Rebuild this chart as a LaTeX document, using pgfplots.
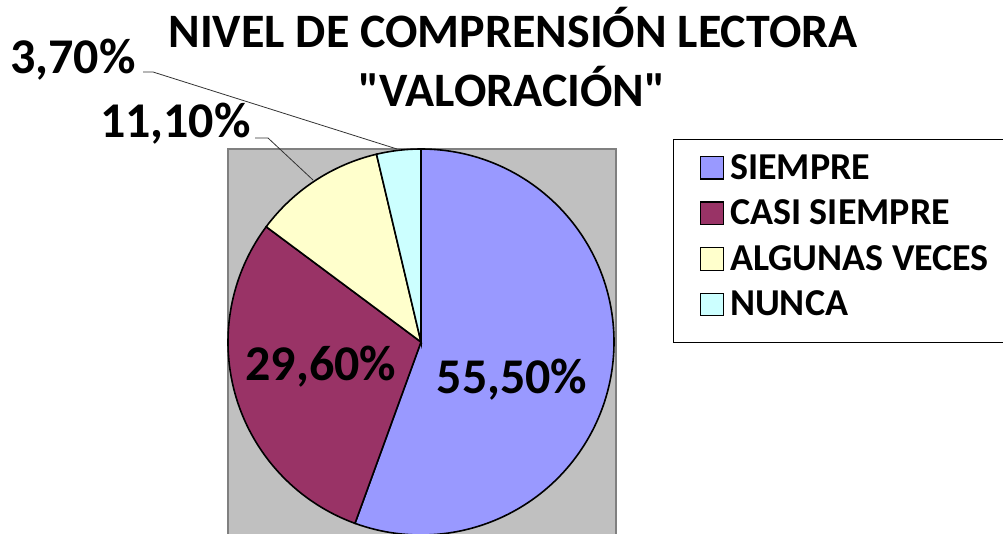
\documentclass[border=0pt]{standalone}
\usepackage{pgfplots}
\usepackage{pgfplotstable}
\pgfplotsset{compat=1.18}
\usepackage{fontspec}
\setmainfont{Carlito}[Ligatures=TeXOff]

\definecolor{siempre}{HTML}{9999FF}
\definecolor{casi}{HTML}{993366}
\definecolor{algunas}{HTML}{FFFFCC}
\definecolor{nunca}{HTML}{CCFFFF}
\definecolor{plotbg}{HTML}{C0C0C0}
\definecolor{plotframe}{HTML}{808080}

\newcommand\titlefont{\fontsize{36}{40}\selectfont\bfseries}
\newcommand\labfont{\fontsize{37.5}{42}\selectfont\bfseries}
\newcommand\legfont{\fontsize{28.5}{32}\selectfont\bfseries}

% share of each answer (%), its colour, and where its label sits (px, from bottom left)
\pgfplotstableread{
label            value  color    lx   ly   anc
SIEMPRE          55.5   siempre  512  140  base
{CASI SIEMPRE}   29.6   casi     321  153  base
{ALGUNAS VECES}  11.1   algunas  251  395  {base east}
NUNCA            3.7    nunca    136  459  {base east}
}\answers

\begin{document}
\begin{tikzpicture}
% slice angles, clockwise from 12 o'clock
\pgfplotstablegetrowsof{\answers}
\pgfmathtruncatemacro{\lastrow}{\pgfplotsretval-1}
\gdef\total{0}
\foreach \i in {0,...,\lastrow}{
  \pgfplotstablegetelem{\i}{value}\of\answers
  \pgfmathsetmacro{\sumtmp}{\total+\pgfplotsretval}
  \global\let\total\sumtmp
}
\gdef\cum{0}
\foreach \i in {0,...,\lastrow}{
  \pgfplotstablegetelem{\i}{value}\of\answers
  \let\v\pgfplotsretval
  \pgfmathsetmacro{\angA}{90-360*(\cum/\total)}
  \pgfmathsetmacro{\cumB}{\cum+\v}
  \pgfmathsetmacro{\angB}{90-360*(\cumB/\total)}
  \expandafter\xdef\csname sa\i\endcsname{\angA}
  \expandafter\xdef\csname sb\i\endcsname{\angB}
  \expandafter\xdef\csname val\i\endcsname{\v}
  \global\let\cum\cumB
  \pgfplotstablegetelem{\i}{color}\of\answers
  \expandafter\xdef\csname col\i\endcsname{\pgfplotsretval}
  \pgfplotstablegetelem{\i}{label}\of\answers
  \expandafter\xdef\csname lab\i\endcsname{\pgfplotsretval}
  \pgfplotstablegetelem{\i}{lx}\of\answers
  \expandafter\xdef\csname lx\i\endcsname{\pgfplotsretval}
  \pgfplotstablegetelem{\i}{ly}\of\answers
  \expandafter\xdef\csname ly\i\endcsname{\pgfplotsretval}
  \pgfplotstablegetelem{\i}{anc}\of\answers
  \expandafter\xdef\csname anc\i\endcsname{\pgfplotsretval}
}

\begin{axis}[
  at={(0,0)}, anchor=south west,
  x=0.75pt, y=0.75pt,
  xmin=0, xmax=1003, ymin=0, ymax=533,
  hide axis, clip=false,
  legend style={at={(700/1003,381/533)}, anchor=north west,
    draw=none, fill=none, inner sep=0pt, row sep=11pt, column sep=3pt,
    font=\legfont, nodes={inner sep=1.5pt}},
  legend cell align=left,
  legend image code/.code={\draw[#1, draw=black, line width=0.9pt] (0pt,-8.5pt) rectangle (17pt,8.5pt);},
]
% plot area
\filldraw[fill=plotbg, draw=plotframe, line width=1.5pt] (axis cs:228,384) rectangle (axis cs:616,-10);
% legend frame
\draw[black, line width=0.75pt] (axis cs:673,393) rectangle (axis cs:1015,191);

\pgfplotsinvokeforeach{0,...,3}{
  \edef\temp{\noexpand\filldraw[fill=\csname col#1\endcsname, draw=black, line width=1.2pt]
    (axis cs:421,191) -- ++(\csname sa#1\endcsname:144.75pt)
    arc[start angle=\csname sa#1\endcsname, end angle=\csname sb#1\endcsname, radius=144.75pt] -- cycle;}
  \temp
  \edef\temp{\noexpand\addlegendimage{fill=\csname col#1\endcsname}}
  \temp
  \edef\temp{\noexpand\addlegendentry{\csname lab#1\endcsname}}
  \temp
}
\pgfplotsinvokeforeach{0,...,3}{
  \edef\temp{\noexpand\node[font=\noexpand\labfont, anchor=\csname anc#1\endcsname, inner sep=0pt]
    at (axis cs:\csname lx#1\endcsname,\csname ly#1\endcsname)
    {\noexpand\pgfmathprintnumber[fixed, fixed zerofill, precision=2, use comma, assume math mode=true]{\csname val#1\endcsname}\noexpand\%};}
  \temp
}

% leader lines to the two small slices
\draw[line width=0.6pt, black!80] (axis cs:143,461) -- (axis cs:153,461) -- (axis cs:397,384);
\draw[line width=0.6pt, black!80] (axis cs:255,395) -- (axis cs:268,395) -- (axis cs:313,353);

% title
\node[font=\titlefont, anchor=base] at (axis cs:513,485) {NIVEL DE COMPRENSIÓN LECTORA};
\node[font=\titlefont, anchor=base] at (axis cs:512,426) {"VALORACIÓN"};
\end{axis}
\pgfresetboundingbox
\useasboundingbox (0,0) rectangle (752.25pt,399.75pt);
\end{tikzpicture}
\end{document}
